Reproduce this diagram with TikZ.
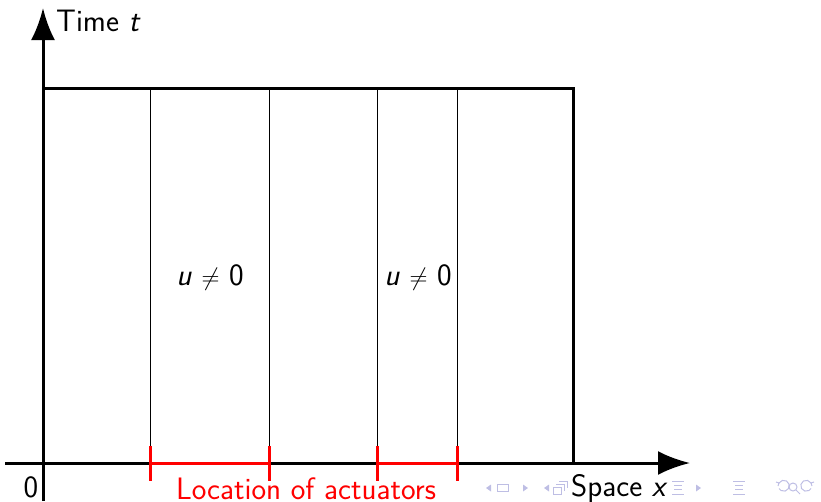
\documentclass[tikz,border=0pt]{standalone}
\usetikzlibrary{arrows.meta}
\definecolor{navc}{RGB}{190,190,228}
\begin{document}
\begin{tikzpicture}[x=1pt,y=-1pt,
  axis/.style={line width=3pt,-{Latex[length=32pt,width=24pt]}},
  frame/.style={line width=3pt,line join=miter},
  thinline/.style={line width=0.9pt},
  redbar/.style={red,line width=3pt},
  txt/.style={font=\fontsize{31}{36}\selectfont\sffamily,inner sep=0pt},
  nav/.style={navc,line width=1pt},
  navf/.style={fill=navc,draw=none}]
\useasboundingbox (0,0) rectangle (821,501);
% coordinates
\coordinate (ybot) at (43,501);
\coordinate (ytop) at (43,8);
\coordinate (xl) at (5,463);
\coordinate (xr) at (690,463);
\coordinate (tl) at (43,88);
\coordinate (tr) at (573,88);
\coordinate (br) at (573,463);
\foreach \n/\x in {a/150,b/269,c/377,d/457}{
  \coordinate (\n top) at (\x,88);
  \coordinate (\n bot) at (\x,463);
  \coordinate (\n hi) at (\x,446);
  \coordinate (\n lo) at (\x,481);
}
% thin vertical lines
\foreach \n in {a,b,c,d}{\draw[thinline] (\n top) -- (\n bot);}
% frame
\draw[frame] (tl) -- (tr) -- (br);
% axes
\draw[axis] (xl) -- (xr);
\draw[axis] (ybot) -- (ytop);
% red actuators
\draw[redbar] (abot) -- (bbot);
\draw[redbar] (cbot) -- (dbot);
\foreach \n in {a,b,c,d}{\draw[redbar] (\n hi) -- (\n lo);}
% nav symbols
\fill[navf] (486,488) -- (491,484.5) -- (491,491.5) -- cycle;
\draw[nav] (497,484.5) rectangle (508,491.5);
\fill[navf] (528,488) -- (523,484.5) -- (523,491.5) -- cycle;
\fill[navf] (544,488) -- (549,484.5) -- (549,491.5) -- cycle;
\draw[nav] (553,487) rectangle (561,494);
\draw[nav] (556,484) -- (564,484) -- (564,491);
\draw[nav] (559,481) -- (567,481) -- (567,488);
\foreach \x in {678,739}{
  \draw[nav] (\x-6,481) -- (\x+6,481);
  \draw[nav] (\x-4,485) -- (\x+4,485);
  \draw[nav] (\x-4,489) -- (\x+4,489);
  \draw[nav] (\x-6,494) -- (\x+6,494);
}
\fill[navf] (701,488) -- (696,484.5) -- (696,491.5) -- cycle;
\draw[nav] (779,483) arc[start angle=150,end angle=-150,radius=5.5pt];
\draw[nav] (776,482) -- (779,483) -- (778,486);
\draw[nav] (793,487) circle[radius=4pt];
\draw[nav] (796,490) -- (800,494);
\draw[nav] (811,483) arc[start angle=30,end angle=330,radius=5.5pt];
\draw[nav] (814,482) -- (811,483) -- (812,486);
% texts
\node[txt,anchor=west] (time) at (56,21) {Time \textit{t}};
\node[txt] (zero) at (31,487) {0};
\node[txt] (u1) at (210,277) {\textit{u} $\neq$ 0};
\node[txt] (u2) at (418,277) {\textit{u} $\neq$ 0};
\node[txt,red] (loc) at (306,489) {Location of actuators};
\node[txt,anchor=west] (space) at (571,489) {Space \textit{x}};
\end{tikzpicture}
\end{document}
